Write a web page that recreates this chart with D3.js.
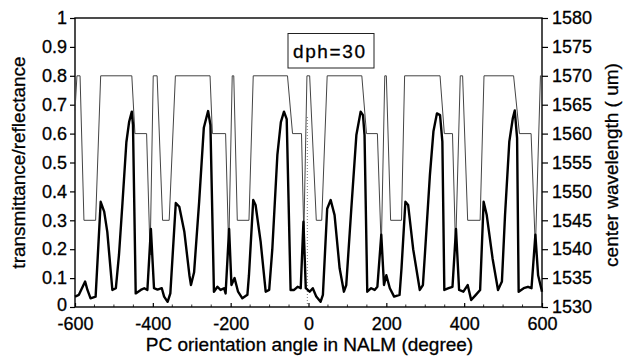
<!DOCTYPE html>
<html>
<head>
<meta charset="utf-8">
<script src="https://cdn.jsdelivr.net/npm/d3@7/dist/d3.min.js"></script>
<style>
  html, body { margin: 0; padding: 0; background: #fff; }
  svg { display: block; font-family: "Liberation Sans", Arial, sans-serif; }
  text { stroke: #000; stroke-width: 0.3px; }
</style>
</head>
<body>
<svg id="chart" width="623" height="358"></svg>
<script>
// PC orientation angle (degree) for the transmittance curve
const angleT = [-600,-590,-574,-568,-560,-547,-534,-525,-517,-504,-495,-487,-478,-468,-461,-454,-451,-444,-431,-422,-414,-405,-397,-388,-377,-371,-362,-355,-341,-332,-319,-306,-302,-294,-281,-269,-258,-252,-243,-234,-226,-217,-213,-204,-198,-190,-181,-170,-157,-153,-142,-136,-123,-110,-101,-93,-80,-71,-63,-56,-46,-37,-28,-20,-13,-7,3,11,20,31,37,48,57,67,80,91,97,110,123,134,140,144,151,161,170,177,187,194,200,209,220,234,239,249,256,269,286,294,299,312,321,330,338,344,349,360,370,379,387,398,409,418,430,441,450,458,473,487,497,505,516,525,530,536,540,553,564,573,583,590,598,600];
// transmittance/reflectance (left axis)
const transmittance = [0.036,0.042,0.088,0.059,0.030,0.036,0.364,0.33,0.26,0.059,0.065,0.18,0.36,0.57,0.64,0.676,0.63,0.047,0.059,0.065,0.059,0.27,0.065,0.06,0.065,0.036,0.018,0.047,0.36,0.347,0.26,0.11,0.076,0.12,0.364,0.62,0.678,0.63,0.053,0.07,0.059,0.065,0.047,0.27,0.076,0.10,0.053,0.03,0.042,0.11,0.37,0.353,0.226,0.053,0.059,0.2,0.526,0.64,0.676,0.65,0.059,0.059,0.07,0.065,0.295,0.065,0.053,0.065,0.036,0.018,0.042,0.34,0.37,0.318,0.134,0.053,0.076,0.34,0.595,0.676,0.664,0.595,0.053,0.065,0.059,0.07,0.25,0.076,0.11,0.065,0.036,0.042,0.134,0.364,0.353,0.2,0.059,0.076,0.18,0.457,0.607,0.67,0.664,0.572,0.059,0.065,0.07,0.27,0.059,0.053,0.076,0.024,0.042,0.059,0.364,0.318,0.168,0.059,0.088,0.318,0.572,0.653,0.68,0.584,0.053,0.065,0.07,0.065,0.25,0.11,0.065,0.053];

// PC orientation angle (degree) for the center-wavelength curve
const angleW = [-600,-595,-587,-577,-547,-534,-454,-446,-416,-407,-399,-389,-375,-358,-342,-253,-247,-213,-205,-196,-192,-183,-153,-142,-54,-41,-18,-12,-4,3,20,34,48,137,149,177,187,196,200,211,239,247,338,349,370,378,390,396,409,441,451,527,542,572,583,596,600];
// center wavelength (right axis)
const wavelength = [1564,1570,1570,1545,1545,1570,1570,1560,1560,1539,1570,1570,1545,1545,1570,1570,1560,1560,1540,1570,1570,1545,1545,1570,1570,1560,1560,1542.5,1570,1570,1545,1545,1570,1570,1560,1560,1540,1570,1570,1545,1545,1570,1570,1560,1560,1540,1570,1570,1545,1545,1570,1570,1560,1560,1540,1570,1570];

const xTicks = [-600,-400,-200,0,200,400,600];
const yTicks = [0,0.1,0.2,0.3,0.4,0.5,0.6,0.7,0.8,0.9,1];
const y2Ticks = [1530,1535,1540,1545,1550,1555,1560,1565,1570,1575,1580];
const legendText = "dph=30";

const svg = d3.select("#chart");
const L = 75, R = 542, T = 18, B = 307;

const x = d3.scaleLinear().domain([-600, 600]).range([L, R]);
const y = d3.scaleLinear().domain([0, 1]).range([B, T]);
const y2 = d3.scaleLinear().domain([1530, 1580]).range([B, T]);

const tickFont = "18px";
const plainInt = d => String(d); // plain hyphen for negatives

// left axis
const gy = svg.append("g").attr("transform", `translate(${L},0)`)
  .call(d3.axisLeft(y).tickValues(yTicks).tickSize(5).tickPadding(3)
    .tickFormat(d => (d === 0 || d === 1) ? String(d) : d.toFixed(1)));
// right axis
const gy2 = svg.append("g").attr("transform", `translate(${R},0)`)
  .call(d3.axisRight(y2).tickValues(y2Ticks).tickSize(6).tickPadding(4).tickFormat(plainInt));
// bottom axis (ticks pointing inward)
const gx = svg.append("g").attr("transform", `translate(0,${B})`)
  .call(d3.axisBottom(x).tickValues(xTicks).tickSize(-4).tickPadding(10).tickFormat(plainInt));

[gy, gy2, gx].forEach(g => {
  g.select(".domain").remove();
  g.selectAll(".tick line").attr("stroke", "#000").attr("stroke-width", 1.2);
  g.selectAll(".tick text").attr("fill", "#000").style("font-size", tickFont);
});
gx.selectAll(".tick text").attr("dy", "0.72em");
// lift the bottom-most left label a touch so it clears the x labels
gy.selectAll(".tick").filter(d => d === 0).select("text").attr("dy", "0.2em");

// minor ticks along bottom axis
svg.append("g").selectAll("line")
  .data(d3.range(-600, 601, 50).filter(v => v % 200 !== 0))
  .join("line")
  .attr("x1", d => x(d)).attr("x2", d => x(d))
  .attr("y1", B).attr("y2", B - 2.5)
  .attr("stroke", "#333").attr("stroke-width", 1);

// frame
svg.append("rect").attr("x", L).attr("y", T).attr("width", R - L).attr("height", B - T)
  .attr("fill", "none").attr("stroke", "#000").attr("stroke-width", 1.4);

// dotted marker at zero angle
svg.append("line")
  .attr("x1", x(-3)).attr("x2", x(-3)).attr("y1", y(0)).attr("y2", y(0.66))
  .attr("stroke", "#555").attr("stroke-width", 0.8).attr("stroke-dasharray", "1,2");

// center wavelength (thin line)
const wLine = d3.line().x((d, i) => x(angleW[i])).y(d => y2(d));
svg.append("path").datum(wavelength)
  .attr("d", wLine).attr("fill", "none")
  .attr("stroke", "#444").attr("stroke-width", 1);

// transmittance (thick line)
const tLine = d3.line().x((d, i) => x(angleT[i])).y(d => y(d));
svg.append("path").datum(transmittance)
  .attr("d", tLine).attr("fill", "none")
  .attr("stroke", "#000").attr("stroke-width", 2.4).attr("stroke-linejoin", "round");

// legend box
const lg = svg.append("g");
lg.append("rect").attr("x", 288).attr("y", 33.5).attr("width", 86).attr("height", 34.5)
  .attr("fill", "#fff").attr("stroke", "#222").attr("stroke-width", 1);
lg.append("text").attr("x", 293).attr("y", 57.5)
  .attr("textLength", 72).attr("lengthAdjust", "spacing")
  .style("font-size", "19px").attr("fill", "#000").text(legendText);

// axis titles
svg.append("text").attr("text-anchor", "middle")
  .attr("transform", `translate(25,${(T + B) / 2}) rotate(-90)`)
  .style("font-size", "19px").attr("fill", "#000").text("transmittance/reflectance");
svg.append("text").attr("text-anchor", "middle")
  .attr("transform", `translate(618,165) rotate(-90)`)
  .style("font-size", "19px").attr("fill", "#000").text("center wavelength ( um)");
svg.append("text").attr("text-anchor", "middle")
  .attr("x", (L + R) / 2 + 1).attr("y", 351)
  .style("font-size", "19px").attr("fill", "#000").text("PC orientation angle in NALM (degree)");
</script>
</body>
</html>
